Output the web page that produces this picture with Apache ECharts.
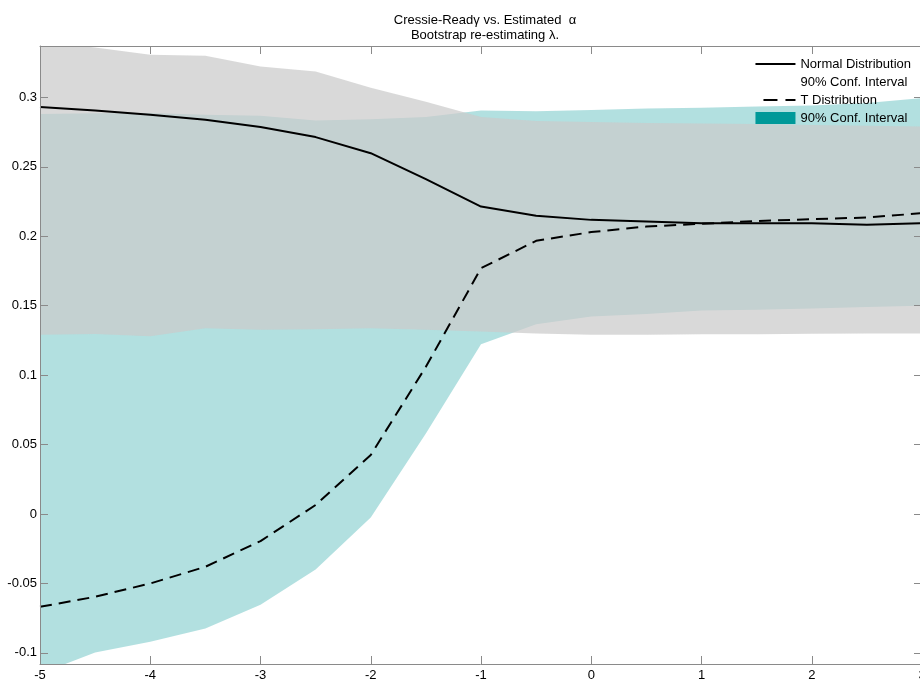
<!DOCTYPE html>
<html>
<head>
<meta charset="utf-8">
<script src="https://cdn.jsdelivr.net/npm/echarts@6/dist/echarts.min.js"></script>
<style>
html,body{margin:0;padding:0;background:#fff;}
#chart{width:920px;height:682px;}
</style>
</head>
<body>
<div id="chart"></div>
<script>
// ---- data ----
const xValues = [-5, -4.5, -4, -3.5, -3, -2.5, -2, -1.5, -1, -0.5, 0, 0.5, 1, 1.5, 2, 2.5, 3];
const normalMean  = [0.2930, 0.2906, 0.2875, 0.2839, 0.2786, 0.2714, 0.2598, 0.2411, 0.2214, 0.2147, 0.2118, 0.2106, 0.2094, 0.2094, 0.2094, 0.2082, 0.2094];
const normalUpper = [0.3400, 0.3360, 0.3307, 0.3300, 0.3223, 0.3187, 0.3070, 0.2968, 0.2858, 0.2830, 0.2822, 0.2815, 0.2812, 0.2808, 0.2802, 0.2796, 0.2790];
const normalLower = [0.1290, 0.1297, 0.1280, 0.1337, 0.1326, 0.1330, 0.1337, 0.1326, 0.1314, 0.1300, 0.1290, 0.1290, 0.1295, 0.1295, 0.1298, 0.1300, 0.1300];
const tMean  = [-0.0668, -0.0596, -0.0500, -0.0380, -0.0195, 0.0065, 0.0425, 0.1060, 0.1770, 0.1967, 0.2030, 0.2070, 0.2090, 0.2110, 0.2123, 0.2135, 0.2166];
const tUpper = [0.2880, 0.2885, 0.2887, 0.2875, 0.2867, 0.2834, 0.2843, 0.2858, 0.2906, 0.2900, 0.2910, 0.2920, 0.2925, 0.2935, 0.2942, 0.2960, 0.2995];
const tLower = [-0.1150, -0.0997, -0.0920, -0.0824, -0.0653, -0.0400, -0.0026, 0.0580, 0.1222, 0.1366, 0.1422, 0.1440, 0.1465, 0.1470, 0.1480, 0.1490, 0.1500];
const yTicks = [-0.1, -0.05, 0, 0.05, 0.1, 0.15, 0.2, 0.25, 0.3];
const xTicks = [-5, -4, -3, -2, -1, 0, 1, 2, 3];
const titleLines = ['Cressie-Read\u03b3 vs. Estimated  \u03b1', 'Bootstrap re-estimating \u03bb.'];
const legendLabels = {
  'Normal Distribution': 'Normal Distribution',
  'Normal CI': '90% Conf. Interval',
  'T Distribution': 'T Distribution',
  'T CI': '90% Conf. Interval'
};

const pairs = (ys) => xValues.map((x, i) => [x, ys[i]]);
const bandData = (up, lo) => xValues.map((x, i) => [x, up[i], lo[i]]);

const FONT = '"Liberation Sans", Arial, sans-serif';
const AXIS_COLOR = '#8a8a8a';

function bandRenderer(up, lo, fill) {
  return function (params, api) {
    if (params.dataIndex !== 0) return null;
    const pts = [];
    for (let i = 0; i < xValues.length; i++) pts.push(api.coord([xValues[i], up[i]]));
    for (let i = xValues.length - 1; i >= 0; i--) pts.push(api.coord([xValues[i], lo[i]]));
    return {type: 'polygon', shape: {points: pts}, style: {fill: fill}, silent: true};
  };
}

const chart = echarts.init(document.getElementById('chart'), null, {renderer: 'canvas'});

const xAxisBase = {
  type: 'value', min: xTicks[0], max: xTicks[xTicks.length - 1], interval: 1, z: 10,
  axisLine: {show: true, onZero: false, lineStyle: {color: AXIS_COLOR, width: 1}},
  axisTick: {show: true, inside: true, length: 8, lineStyle: {color: AXIS_COLOR}},
  splitLine: {show: false}
};
const yAxisBase = {
  type: 'value', min: -0.108, max: 0.337, z: 10,
  axisLine: {show: true, onZero: false, lineStyle: {color: AXIS_COLOR, width: 1}},
  axisTick: {show: true, inside: true, length: 8, customValues: yTicks, lineStyle: {color: AXIS_COLOR}},
  splitLine: {show: false}
};

const option = {
  animation: false,
  backgroundColor: '#fff',
  title: {
    text: titleLines.join('\n'),
    left: 480, top: 8, textAlign: 'center',
    textStyle: {fontFamily: FONT, fontSize: 13, fontWeight: 'normal', color: '#000', lineHeight: 15}
  },
  grid: {left: 40, top: 46, width: 882, height: 618, containLabel: false, outerBoundsMode: 'none'},
  legend: {
    orient: 'vertical', right: 9, top: 57, padding: 0, z: 12,
    itemWidth: 40, itemHeight: 12, itemGap: 4, align: 'left',
    selectedMode: false,
    textStyle: {fontFamily: FONT, fontSize: 13, color: '#000', lineHeight: 14},
    formatter: (name) => legendLabels[name] || name,
    data: [
      {name: 'Normal Distribution', itemStyle: {opacity: 0}},
      {name: 'Normal CI', icon: 'rect', itemStyle: {color: 'rgba(0,0,0,0)', opacity: 0}},
      {name: 'T Distribution', itemStyle: {opacity: 0}, lineStyle: {type: [14, 8], dashOffset: 14}},
      {name: 'T CI', icon: 'rect', itemStyle: {color: '#009999', opacity: 1}}
    ]
  },
  xAxis: [
    Object.assign({}, xAxisBase, {
      position: 'bottom',
      axisLabel: {show: true, margin: 5, fontFamily: FONT, fontSize: 13, color: '#000', showMinLabel: true, showMaxLabel: true}
    }),
    Object.assign({}, xAxisBase, {position: 'top', axisLabel: {show: false}})
  ],
  yAxis: [
    Object.assign({}, yAxisBase, {
      position: 'left',
      axisLabel: {show: true, margin: 3, customValues: yTicks, fontFamily: FONT, fontSize: 13, color: '#000'}
    }),
    Object.assign({}, yAxisBase, {position: 'right', axisLabel: {show: false}})
  ],
  series: [
    {
      name: 'T CI', type: 'custom', clip: true, z: 1,
      data: bandData(tUpper, tLower), encode: {x: 0, y: [1, 2]},
      itemStyle: {color: '#009999'},
      renderItem: bandRenderer(tUpper, tLower, 'rgba(0,153,153,0.3)')
    },
    {
      name: 'Normal CI', type: 'custom', clip: true, z: 2,
      data: bandData(normalUpper, normalLower), encode: {x: 0, y: [1, 2]},
      itemStyle: {color: '#c8c8c8'},
      renderItem: bandRenderer(normalUpper, normalLower, 'rgba(203,203,203,0.72)')
    },
    {
      name: 'Normal Distribution', type: 'line', data: pairs(normalMean), clip: true,
      symbol: 'none', lineStyle: {color: '#000', width: 2, type: 'solid'}, itemStyle: {color: '#000'}, z: 5
    },
    {
      name: 'T Distribution', type: 'line', data: pairs(tMean), clip: true,
      symbol: 'none', lineStyle: {color: '#000', width: 2, type: [12, 7]}, itemStyle: {color: '#000'}, z: 5
    }
  ]
};
chart.setOption(option);
</script>
</body>
</html>
